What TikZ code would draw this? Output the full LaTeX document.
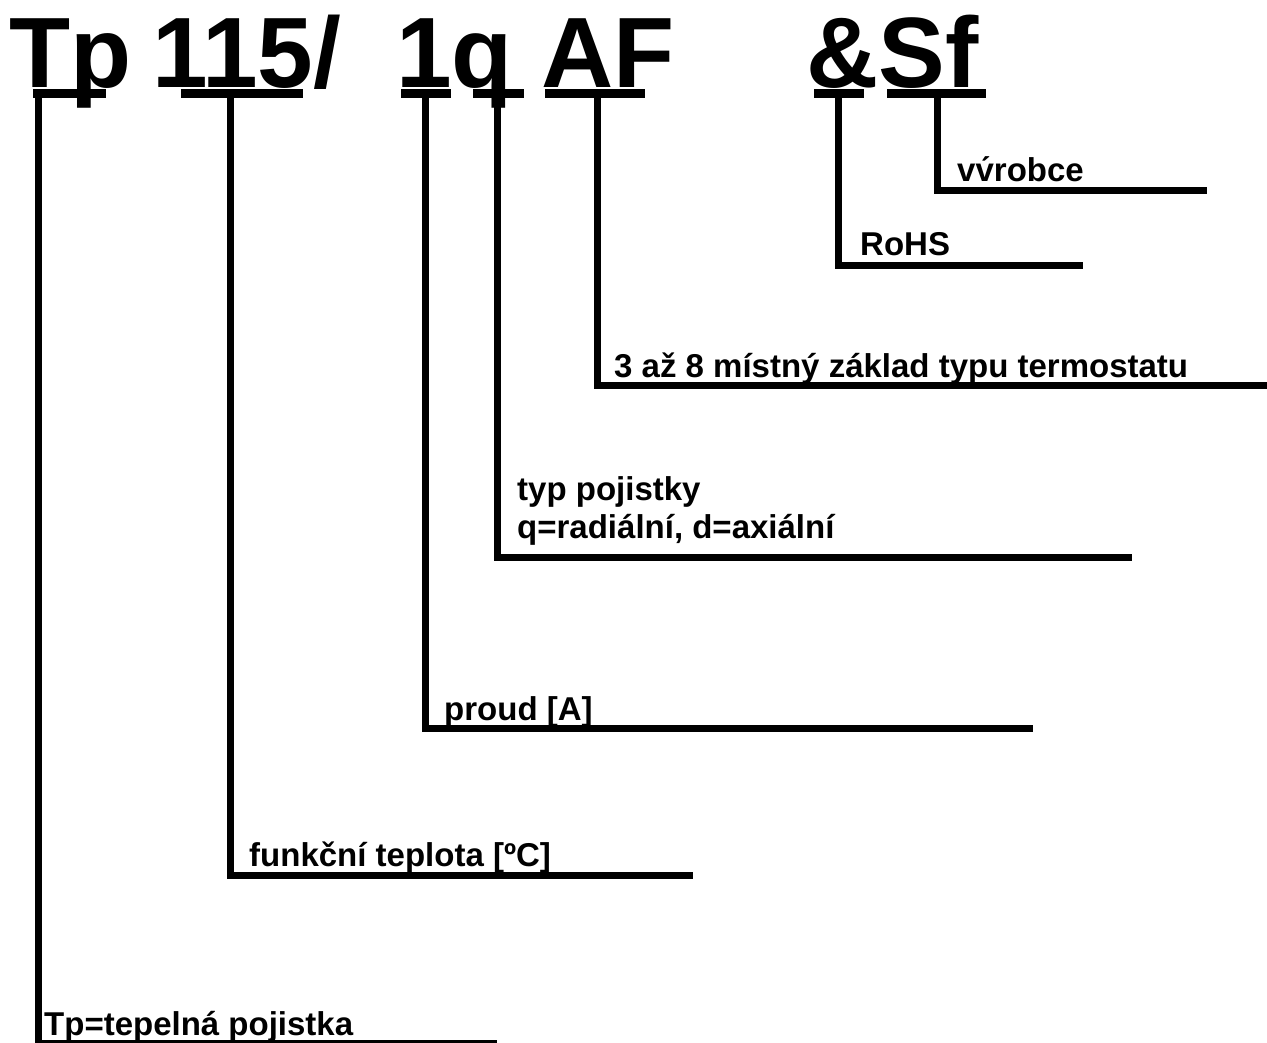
\documentclass[tikz,border=0pt]{standalone}
\usepackage{fontspec}
\setmainfont{Liberation Sans}
\begin{document}
\begin{tikzpicture}[x=1pt,y=-1pt,
  title/.style={font=\bfseries\fontsize{100}{104}\selectfont, inner sep=0pt, anchor=base west},
  lbl/.style={font=\bfseries\fontsize{33}{38}\selectfont, inner sep=0pt, anchor=base west, align=left},
  ubar/.style={line width=9pt, line cap=butt},
  lead/.style={line width=7pt, line join=miter, line cap=butt}]
\useasboundingbox (0,0) rectangle (1267,1042);
% title tokens
\node[title] (tTp) at (9,87) {Tp};
\node[title] (t115) at (152,87) {115/};
\node[title] (t1q) at (396,87) {1q};
\node[title] (tAF) at (541,87) {AF};
\node[title] (tSf) at (806,87) {\&Sf};
% underline ends
\coordinate (u1a) at (33,93);  \coordinate (u1b) at (106,93);
\coordinate (u2a) at (181,93); \coordinate (u2b) at (303,93);
\coordinate (u3a) at (401,93); \coordinate (u3b) at (451,93);
\coordinate (u4a) at (473,93); \coordinate (u4b) at (524,93);
\coordinate (u5a) at (545,93); \coordinate (u5b) at (645,93);
\coordinate (u6a) at (814,93); \coordinate (u6b) at (864,93);
\coordinate (u7a) at (887,93); \coordinate (u7b) at (986,93);
\foreach \i in {1,...,7} {\draw[ubar] (u\i a) -- (u\i b);}
% stems
\coordinate (s1) at (38,93);  \coordinate (s2) at (230,93);
\coordinate (s3) at (425,93); \coordinate (s4) at (497,93);
\coordinate (s5) at (597,93); \coordinate (s6) at (838,93);
\coordinate (s7) at (937,93);
% line ends
\coordinate (e1) at (497,1043);
\coordinate (e2) at (693,875);
\coordinate (e3) at (1033,728);
\coordinate (e4) at (1132,557);
\coordinate (e5) at (1267,385);
\coordinate (e6) at (1083,265);
\coordinate (e7) at (1207,190);
\draw[lead] (s1) |- (e1);
\draw[lead] (s2) |- (e2);
\draw[lead] (s3) |- (e3);
\draw[lead] (s4) |- (e4);
\draw[lead] (s5) |- (e5);
\draw[lead] (s6) |- (e6);
\draw[lead] (s7) |- (e7);
% labels
\node[lbl] (l7) at (957,181) {v\'vrobce};
\node[lbl] (l6) at (860,255) {RoHS};
\node[lbl] (l5) at (614,377) {3 až 8 místný základ typu termostatu};
\node[lbl] (l4a) at (517,500) {typ pojistky};
\node[lbl] (l4b) at (517,538) {q=radiální, d=axiální};
\node[lbl] (l3) at (444,720) {proud [A]};
\node[lbl] (l2) at (249,866) {funkční teplota [ºC]};
\node[lbl] (l1) at (44,1035) {Tp=tepelná pojistka};
\end{tikzpicture}
\end{document}
